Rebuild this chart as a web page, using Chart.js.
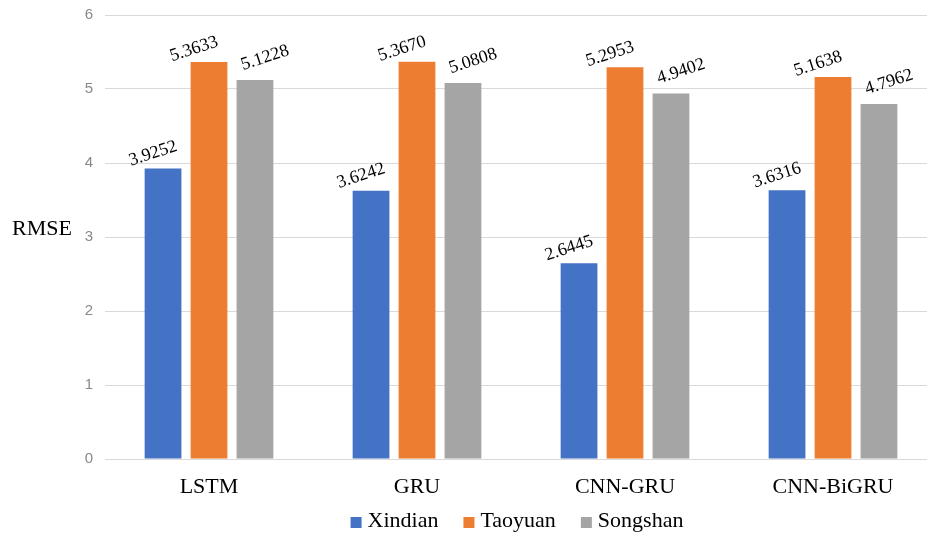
<!DOCTYPE html>
<html>
<head>
<meta charset="utf-8">
<script src="https://cdn.jsdelivr.net/npm/chart.js@4.4.0/dist/chart.umd.min.js"></script>
<style>
  html, body { margin: 0; padding: 0; background: #fff; overflow: hidden; }
  #wrap { position: relative; width: 940px; height: 536px; overflow: hidden; }
</style>
</head>
<body>
<div id="wrap"><canvas id="c" width="940" height="536"></canvas></div>
<script>
// RMSE per model and station
const models   = ['LSTM', 'GRU', 'CNN-GRU', 'CNN-BiGRU'];
const xindian  = [3.9252, 3.6242, 2.6445, 3.6316];
const taoyuan  = [5.3633, 5.3670, 5.2953, 5.1638];
const songshan = [5.1228, 5.0808, 4.9402, 4.7962];
const yTicks   = [0, 1, 2, 3, 4, 5, 6];
const stations = ['Xindian', 'Taoyuan', 'Songshan'];
const colors   = ['#4472C4', '#ED7D31', '#A5A5A5'];

const SERIF = '"Liberation Serif", "Times New Roman", serif';

// Rotated value labels above each bar; each series has its own nudge
const labelNudge = [[-10, -15], [-15, -13], [10, -22]];
const valueLabels = {
  id: 'valueLabels',
  afterDatasetsDraw(chart) {
    const ctx = chart.ctx;
    chart.data.datasets.forEach((ds, i) => {
      const [dx, dy] = labelNudge[i];
      chart.getDatasetMeta(i).data.forEach((bar, j) => {
        ctx.save();
        ctx.translate(bar.x + dx, bar.y + dy);
        ctx.rotate(-18 * Math.PI / 180);
        ctx.font = '18px ' + SERIF;
        ctx.fillStyle = '#000';
        ctx.textAlign = 'center';
        ctx.textBaseline = 'middle';
        ctx.fillText(ds.data[j].toFixed(4), 0, 0);
        ctx.restore();
      });
    });
  }
};

// Horizontal y-axis caption
const yCaption = {
  id: 'yCaption',
  afterDraw(chart) {
    const ctx = chart.ctx;
    const y = chart.scales.y;
    ctx.save();
    ctx.font = '22px ' + SERIF;
    ctx.fillStyle = '#000';
    ctx.textAlign = 'center';
    ctx.textBaseline = 'middle';
    ctx.fillText('RMSE', 42, y.getPixelForValue(3.1));
    ctx.restore();
  }
};

// Series key along the bottom, centred under the plot area
const seriesKey = {
  id: 'seriesKey',
  afterDraw(chart) {
    const ctx = chart.ctx;
    const box = 11, textGap = 6, itemGap = 25;
    ctx.save();
    ctx.font = '22px ' + SERIF;
    ctx.textBaseline = 'middle';
    ctx.textAlign = 'left';
    const widths = chart.data.datasets.map(d => ctx.measureText(d.label).width);
    const total = widths.reduce((a, w) => a + box + textGap + w, 0) + itemGap * (widths.length - 1);
    const area = chart.chartArea;
    let x = (area.left + area.right) / 2 - 4 - total / 2;
    const cy = 521;
    chart.data.datasets.forEach((d, i) => {
      ctx.fillStyle = d.backgroundColor;
      ctx.fillRect(x, cy - 4, box, box);
      ctx.fillStyle = '#000';
      ctx.fillText(d.label, x + box + textGap, cy);
      x += box + textGap + widths[i] + itemGap;
    });
    ctx.restore();
  }
};

new Chart(document.getElementById('c'), {
  type: 'bar',
  data: {
    labels: models,
    datasets: [
      { label: stations[0], data: xindian,  backgroundColor: colors[0] },
      { label: stations[1], data: taoyuan,  backgroundColor: colors[1] },
      { label: stations[2], data: songshan, backgroundColor: colors[2] }
    ]
  },
  options: {
    responsive: false,
    animation: false,
    devicePixelRatio: 1,
    categoryPercentage: 0.663,
    barPercentage: 0.80,
    layout: { padding: { top: 0, right: 3, left: 0, bottom: 36 } },
    plugins: {
      tooltip: { enabled: false },
      legend: { display: false }
    },
    scales: {
      x: {
        grid: { display: false, drawTicks: false },
        border: { display: false },
        ticks: { font: { family: SERIF, size: 22 }, color: '#000', padding: 15 },
        afterFit(s) { s.height = 41; }
      },
      y: {
        min: 0,
        max: 6,
        afterBuildTicks(s) { s.ticks = yTicks.map(v => ({ value: v })); },
        ticks: {
          font: { family: '"Liberation Sans", Arial, sans-serif', size: 15 },
          color: '#888',
          padding: 12
        },
        grid: { color: '#d9d9d9', drawTicks: false },
        border: { display: false },
        afterFit(s) { s.width = 105; s.paddingTop = 15; s.paddingBottom = 0; }
      }
    }
  },
  plugins: [valueLabels, yCaption, seriesKey]
});
</script>
</body>
</html>
